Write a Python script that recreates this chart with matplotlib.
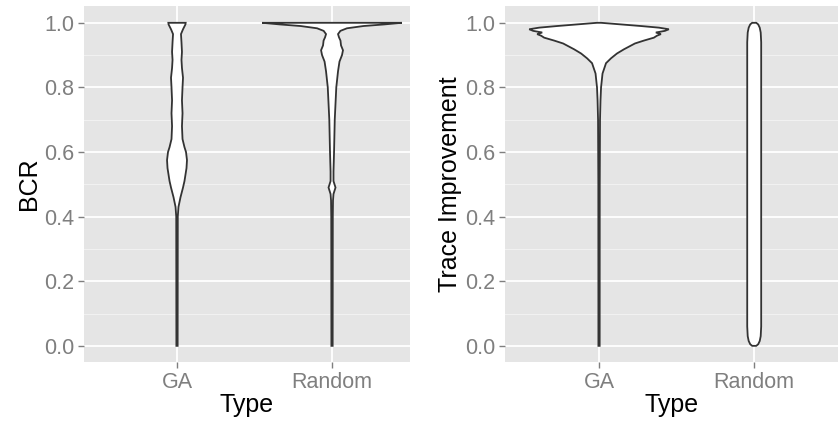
import numpy as np
import matplotlib
matplotlib.use("Agg")
import matplotlib.pyplot as plt

plt.rcParams['font.family'] = ['Liberation Sans', 'DejaVu Sans']

types = ['GA', 'Random']

# violin outlines: y level and relative density (1 = widest in panel)
bcr_ga_y = [0.0, 0.40, 0.43, 0.46, 0.49, 0.51, 0.55, 0.575, 0.60, 0.615, 0.64, 0.68,
            0.72, 0.76, 0.80, 0.83, 0.86, 0.885, 0.91, 0.94, 0.965, 0.98, 0.995, 1.0]
bcr_ga_d = [0.009, 0.011, 0.021, 0.05, 0.086, 0.107, 0.136, 0.143, 0.129, 0.107, 0.079, 0.071,
            0.079, 0.071, 0.079, 0.086, 0.071, 0.064, 0.071, 0.064, 0.057, 0.086, 0.121, 0.124]

bcr_rnd_y = [0.0, 0.40, 0.45, 0.47, 0.49, 0.51, 0.54, 0.60, 0.70, 0.80, 0.85, 0.88, 0.90,
             0.915, 0.93, 0.945, 0.955, 0.965, 0.975, 0.983, 0.99, 0.995, 1.0]
bcr_rnd_d = [0.009, 0.011, 0.014, 0.021, 0.05, 0.021, 0.021, 0.029, 0.039, 0.061, 0.086, 0.107,
             0.143, 0.157, 0.129, 0.121, 0.10, 0.086, 0.12, 0.214, 0.45, 0.75, 1.0]

tr_ga_y = [0.0, 0.5, 0.70, 0.76, 0.80, 0.843, 0.875, 0.89, 0.905, 0.918, 0.936, 0.945,
           0.954, 0.96, 0.965, 0.97, 0.975, 0.98, 0.985, 0.99, 0.995, 1.0]
tr_ga_d = [0.009, 0.01, 0.014, 0.021, 0.029, 0.05, 0.1, 0.171, 0.257, 0.357, 0.514, 0.643,
           0.786, 0.829, 0.886, 0.814, 0.943, 1.0, 0.857, 0.6, 0.314, 0.029]

tr_rnd_y = [0.0, 0.005, 0.015, 0.03, 0.06, 0.5, 0.94, 0.97, 0.985, 0.995, 1.0]
tr_rnd_d = [0.029, 0.057, 0.079, 0.093, 0.1, 0.1, 0.1, 0.093, 0.079, 0.057, 0.029]

panels = [
    ('BCR', [(bcr_ga_y, bcr_ga_d), (bcr_rnd_y, bcr_rnd_d)]),
    ('Trace Improvement', [(tr_ga_y, tr_ga_d), (tr_rnd_y, tr_rnd_d)]),
]

W, H = 838, 426
fig = plt.figure(figsize=(W / 100, H / 100), dpi=100)
boxes = [(84, 410, (0.4, 2.503)), (505, 838, (0.394, 2.54))]
top, bottom = 6, 362

for (ylabel, violins), (left, right, xlim) in zip(panels, boxes):
    ax = fig.add_axes([left / W, (H - bottom) / H, (right - left) / W, (bottom - top) / H])
    ax.set_facecolor('#E5E5E5')
    ax.set_xlim(*xlim)
    ax.set_ylim(-0.05, 1.052)
    ax.set_yticks(np.arange(0, 1.01, 0.2))
    ax.set_yticklabels(['0.0', '0.2', '0.4', '0.6', '0.8', '1.0'])
    ax.set_yticks(np.arange(0.1, 1.0, 0.2), minor=True)
    ax.set_xticks([1, 2])
    ax.set_xticklabels(types)
    ax.grid(which='major', color='white', lw=1.3)
    ax.grid(which='minor', axis='y', color='#F2F2F2', lw=0.7)
    ax.set_axisbelow(True)
    for s in ax.spines.values():
        s.set_visible(False)
    ax.tick_params(which='major', length=4, width=1, color='#7F7F7F',
                   labelcolor='#7F7F7F', labelsize=15.5, pad=3)
    ax.tick_params(which='minor', length=0)
    ax.set_xlabel('Type', fontsize=18, labelpad=0)
    ax.set_ylabel(ylabel, fontsize=18, labelpad=2)

    for i, (ys, ds) in enumerate(violins):
        ys = np.array(ys)
        w = 0.45 * np.array(ds)
        xs = np.concatenate([i + 1 + w, (i + 1 - w)[::-1]])
        yy = np.concatenate([ys, ys[::-1]])
        ax.fill(xs, yy, facecolor='white', edgecolor='#333333', lw=1.3, zorder=3)

fig.savefig('out.png', dpi=100)
